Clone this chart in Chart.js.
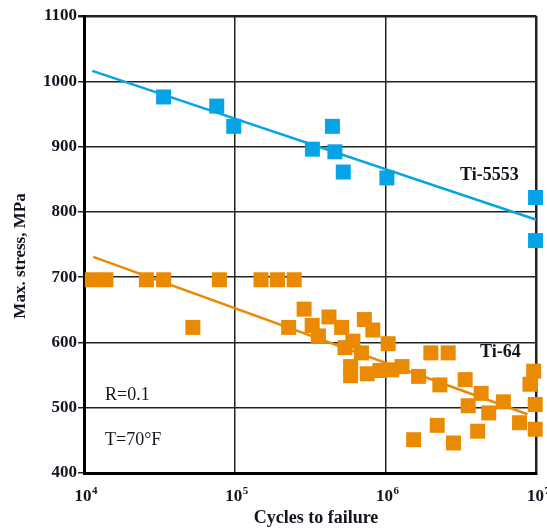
<!DOCTYPE html>
<html>
<head>
<meta charset="utf-8">
<script src="https://cdn.jsdelivr.net/npm/chart.js@4/dist/chart.umd.min.js"></script>
<style>
    html, body { margin: 0; padding: 0; background: #fff; }
    #wrap { width: 547px; height: 528px; }
</style>
</head>
<body>
<div id="wrap"><canvas id="chart"></canvas></div>
<script>
// Ti-5553 test points
const ti5553Cycles = [33700, 75900, 98400, 327000, 444000, 461000, 524000, 1020000, 9870000, 9870000];
const ti5553Stress = [976, 962, 931, 896, 931, 892, 861, 852, 822, 756];

// Ti-64 test points
const ti64Cycles = [
    11350, 13970, 25940, 33730, 79070, 149200, 192000, 247600, 52700, 227500,
    288200, 325900, 358400, 421400, 511400, 538000, 607000, 723000, 822600, 691700,
    586200, 586200, 755000, 916000, 1040000, 1099000, 1285000, 1656000, 1996000, 2600000,
    2290000, 3370000, 3530000, 4300000, 4830000, 6040000, 7730000, 9600000, 9060000, 9820000,
    9820000, 4080000, 2200000, 2820000, 1535000
];
const ti64Stress = [
    696, 696, 696, 696, 696, 696, 696, 696, 623, 623,
    651, 626, 610, 639, 623, 592, 602, 635, 619, 584,
    563, 549, 552, 557, 598, 558, 563, 548, 584, 584,
    535, 543, 503, 522, 492, 509, 477, 556, 536, 505,
    467, 464, 473, 446, 451
];

// fitted lines (end points)
const ti5553FitCycles = [11350, 10000000];
const ti5553FitStress = [1016, 788];
const ti64FitCycles = [11520, 8730000];
const ti64FitStress = [731, 490];

const xTickExponents = [4, 5, 6, 7];
const yTickValues = [400, 500, 600, 700, 800, 900, 1000, 1100];

const BLUE = '#06a3e6';
const ORANGE = '#e98a02';
const INK = '#141420';
const SERIF = '"Liberation Serif", "Times New Roman", serif';

const toPoints = (xs, ys) => xs.map((x, i) => ({ x: x, y: ys[i] }));

const textPlugin = {
    id: 'textPlugin',
    afterDraw(chart) {
        const { ctx, scales: { x } } = chart;
        ctx.save();
        ctx.fillStyle = INK;
        ctx.textBaseline = 'alphabetic';

        // x tick labels 10^n
        xTickExponents.forEach(e => {
            const px = x.getPixelForValue(Math.pow(10, e));
            ctx.font = 'bold 17px ' + SERIF;
            ctx.textAlign = 'center';
            ctx.fillText('10', px - 1, 501);
            ctx.font = 'bold 11px ' + SERIF;
            ctx.textAlign = 'left';
            ctx.fillText(String(e), px + 8, 494);
        });

        // axis titles
        ctx.font = 'bold 18px ' + SERIF;
        ctx.textAlign = 'center';
        ctx.fillText('Cycles to failure', 316, 523);

        ctx.save();
        ctx.translate(21, 256);
        ctx.rotate(-Math.PI / 2);
        ctx.textBaseline = 'middle';
        ctx.font = 'bold 17px ' + SERIF;
        ctx.fillText('Max. stress, MPa', 0, 0);
        ctx.restore();

        // annotations
        ctx.textAlign = 'left';
        ctx.textBaseline = 'middle';
        ctx.font = 'bold 18px ' + SERIF;
        ctx.fillText('Ti-5553', 460, 175);
        ctx.fillText('Ti-64', 480, 352);
        ctx.font = '18px ' + SERIF;
        ctx.fillText('R=0.1', 105, 395);
        ctx.fillText('T=70\u00B0F', 105, 440);
        ctx.restore();
    }
};

new Chart(document.getElementById('chart'), {
    type: 'scatter',
    data: {
        datasets: [
            {
                label: 'Ti-5553',
                data: toPoints(ti5553Cycles, ti5553Stress),
                pointStyle: 'rect',
                pointRadius: 10.6,
                backgroundColor: BLUE,
                borderColor: BLUE,
                borderWidth: 0,
                clip: false,
                order: 1
            },
            {
                label: 'Ti-64',
                data: toPoints(ti64Cycles, ti64Stress),
                pointStyle: 'rect',
                pointRadius: 10.6,
                backgroundColor: ORANGE,
                borderColor: ORANGE,
                borderWidth: 0,
                clip: false,
                order: 1
            },
            {
                type: 'line',
                label: 'Ti-5553 fit',
                data: toPoints(ti5553FitCycles, ti5553FitStress),
                borderColor: BLUE,
                borderWidth: 2.5,
                pointRadius: 0,
                fill: false,
                order: 2
            },
            {
                type: 'line',
                label: 'Ti-64 fit',
                data: toPoints(ti64FitCycles, ti64FitStress),
                borderColor: ORANGE,
                borderWidth: 2.5,
                pointRadius: 0,
                fill: false,
                order: 2
            }
        ]
    },
    options: {
        responsive: true,
        maintainAspectRatio: false,
        animation: false,
        devicePixelRatio: 1,
        layout: {
            padding: { top: 16, right: 9, left: 0, bottom: 0 }
        },
        plugins: {
            legend: { display: false },
            tooltip: { enabled: false }
        },
        scales: {
            x: {
                type: 'logarithmic',
                min: 1e4,
                max: 1e7,
                afterBuildTicks: function (scale) {
                    scale.ticks = xTickExponents.map(e => ({ value: Math.pow(10, e) }));
                },
                afterFit: function (scale) {
                    scale.height = 55;
                },
                ticks: { display: false },
                grid: {
                    color: '#222',
                    lineWidth: function (ctx) {
                        return ctx.tick && ctx.tick.value === 1e7 ? 2.5 : 1.5;
                    },
                    drawTicks: false
                },
                border: { color: '#000', width: 3 }
            },
            y: {
                type: 'linear',
                min: 400,
                max: 1100,
                afterBuildTicks: function (scale) {
                    scale.ticks = yTickValues.map(v => ({ value: v }));
                },
                afterFit: function (scale) {
                    scale.width = 84;
                },
                ticks: {
                    color: INK,
                    padding: 1,
                    font: { family: SERIF, size: 17, weight: 'bold' },
                    callback: function (value) {
                        return String(value);
                    }
                },
                grid: {
                    color: '#222',
                    lineWidth: function (ctx) {
                        return ctx.tick && ctx.tick.value === 1100 ? 2.5 : 1.5;
                    },
                    tickLength: 6
                },
                border: { color: '#000', width: 3 }
            }
        }
    },
    plugins: [textPlugin]
});
</script>
</body>
</html>
